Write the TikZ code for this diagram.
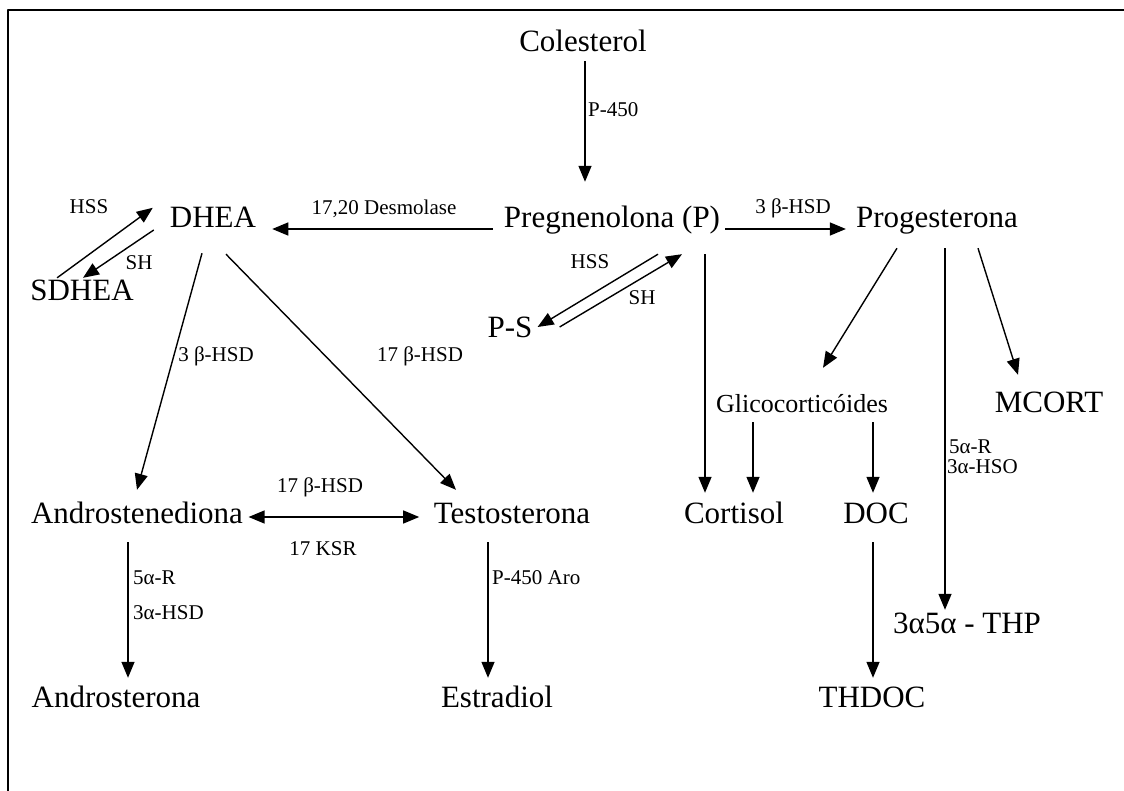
\documentclass[tikz,border=0pt]{standalone}
\usepackage{fontspec}
\setmainfont{Liberation Serif}
\usetikzlibrary{arrows.meta}
\tikzset{
  mol/.style={font=\fontsize{31}{36}\selectfont, inner sep=3pt, text height=22pt, text depth=6pt, anchor=base},
  grp/.style={font=\fontsize{26}{30}\selectfont, inner sep=3pt, text height=18pt, text depth=6pt, anchor=base},
  lbl/.style={font=\fontsize{21}{24}\selectfont, inner sep=0pt, anchor=base},
  arr/.style={->, line width=1.4pt},
}
\begin{document}
\begin{tikzpicture}[x=1pt, y=-1pt, line join=round, >={Triangle[length=16pt,width=13pt]}]
\useasboundingbox (0,0) rectangle (1124,791);
\draw[line width=1.8pt] (8,791) -- (8,10) -- (1124,10);
% compuestos
\foreach \n/\x/\y/\t in {cole/583/52/Colesterol, preg/612/228/Pregnenolona (P), dhea/213/228/DHEA,
  prog/937/228/Progesterona, sdhea/82/301/SDHEA, ps/510/338/P-S, mcort/1049/412/MCORT,
  andro/137/523/Androstenediona, testo/512/523/Testosterona, cort/734/523/Cortisol, doc/876/523/DOC,
  thp/967/633/3α5α - THP, androst/116/707/Androsterona, estr/497/707/Estradiol, thdoc/872/707/THDOC}
  \node[mol] (\n) at (\x,\y) {\t};
\node[grp] (glic) at (802,412) {Glicocorticóides};
% enzimas
\node[lbl, anchor=base west] (lp) at (588,117) {P-450};
\node[lbl] (ldes) at (384,215) {17,20 Desmolase};
\node[lbl] (lhsd) at (793,214) {3 β-HSD};
\node[lbl] (lhss) at (89,214) {HSS};
\node[lbl] (lsh) at (139,270) {SH};
\node[lbl] (lhssp) at (590,269) {HSS};
\node[lbl] (lshp) at (642,305) {SH};
\node[lbl] (lhsda) at (216,362) {3 β-HSD};
\node[lbl] (lhsdt) at (420,362) {17 β-HSD};
\node[lbl] (lhsdm) at (320,492) {17 β-HSD};
\node[lbl] (lksr) at (323,555) {17 KSR};
\node[lbl, anchor=base west] (lra) at (133,584) {5α-R};
\node[lbl, anchor=base west] (lhsdr) at (133,619) {3α-HSD};
\node[lbl, anchor=base west] (laro) at (492,584) {P-450 Aro};
\node[lbl, anchor=base west] (lrp) at (949,453) {5α-R};
\node[lbl, anchor=base west] (lhso) at (947,473) {3α-HSO};
% reacciones
\draw[arr] ([xshift=2pt]cole.south) -- ([shift={(-27pt,21pt)}]preg.north);
\draw[arr] ([shift={(-8pt,-1pt)}]preg.base west) -- ([shift={(13pt,-1pt)}]dhea.base east);
\draw[arr] ([shift={(2pt,-1pt)}]preg.base east) -- ([shift={(-7pt,-1pt)}]prog.base west);
\draw[arr] ([shift={(30pt,-2pt)}]sdhea.north west) -- ([shift={(-14pt,-5pt)}]dhea.north west);
\draw[arr] ([shift={(-13pt,-10pt)}]dhea.west) -- ([shift={(1pt,-2pt)}]sdhea.north);
\draw[arr] ([shift={(46pt,-17pt)}]preg.south) -- ([shift={(2pt,3pt)}]ps.east);
\draw[arr] ([shift={(24pt,3pt)}]ps.east) -- ([shift={(70pt,-17pt)}]preg.south);
\draw[arr] ([shift={(93pt,-17pt)}]preg.south) -- ([shift={(-29pt,5pt)}]cort.north);
\draw[arr] ([shift={(-49pt,-1pt)}]glic.south) -- ([shift={(19pt,5pt)}]cort.north);
\draw[arr] ([shift={(71pt,-1pt)}]glic.south) -- ([shift={(-3pt,5pt)}]doc.north);
\draw[arr] ([shift={(-3pt,-10pt)}]doc.south) -- ([shift={(1pt,4pt)}]thdoc.north);
\draw[arr] ([shift={(-40pt,-11pt)}]prog.south) -- ([shift={(21pt,23pt)}]glic.north);
\draw[arr] ([shift={(8pt,-11pt)}]prog.south) -- ([shift={(-22pt,-2pt)}]thp.north);
\draw[arr] ([shift={(41pt,-11pt)}]prog.south) -- ([shift={(-31pt,12pt)}]mcort.north);
\draw[arr] ([shift={(-11pt,-16pt)}]dhea.south) -- ([yshift=8pt]andro.north);
\draw[arr] ([shift={(13pt,-17pt)}]dhea.south) -- ([shift={(-56pt,8pt)}]testo.north);
\draw[arr,<->] ([shift={(2.5pt,-2pt)}]andro.east) -- ([shift={(-11.5pt,-2pt)}]testo.west);
\draw[arr] ([shift={(-9pt,-10pt)}]andro.south) -- ([shift={(12pt,4pt)}]androst.north);
\draw[arr] ([shift={(-24pt,-10pt)}]testo.south) -- ([shift={(-9pt,4pt)}]estr.north);
\end{tikzpicture}
\end{document}
